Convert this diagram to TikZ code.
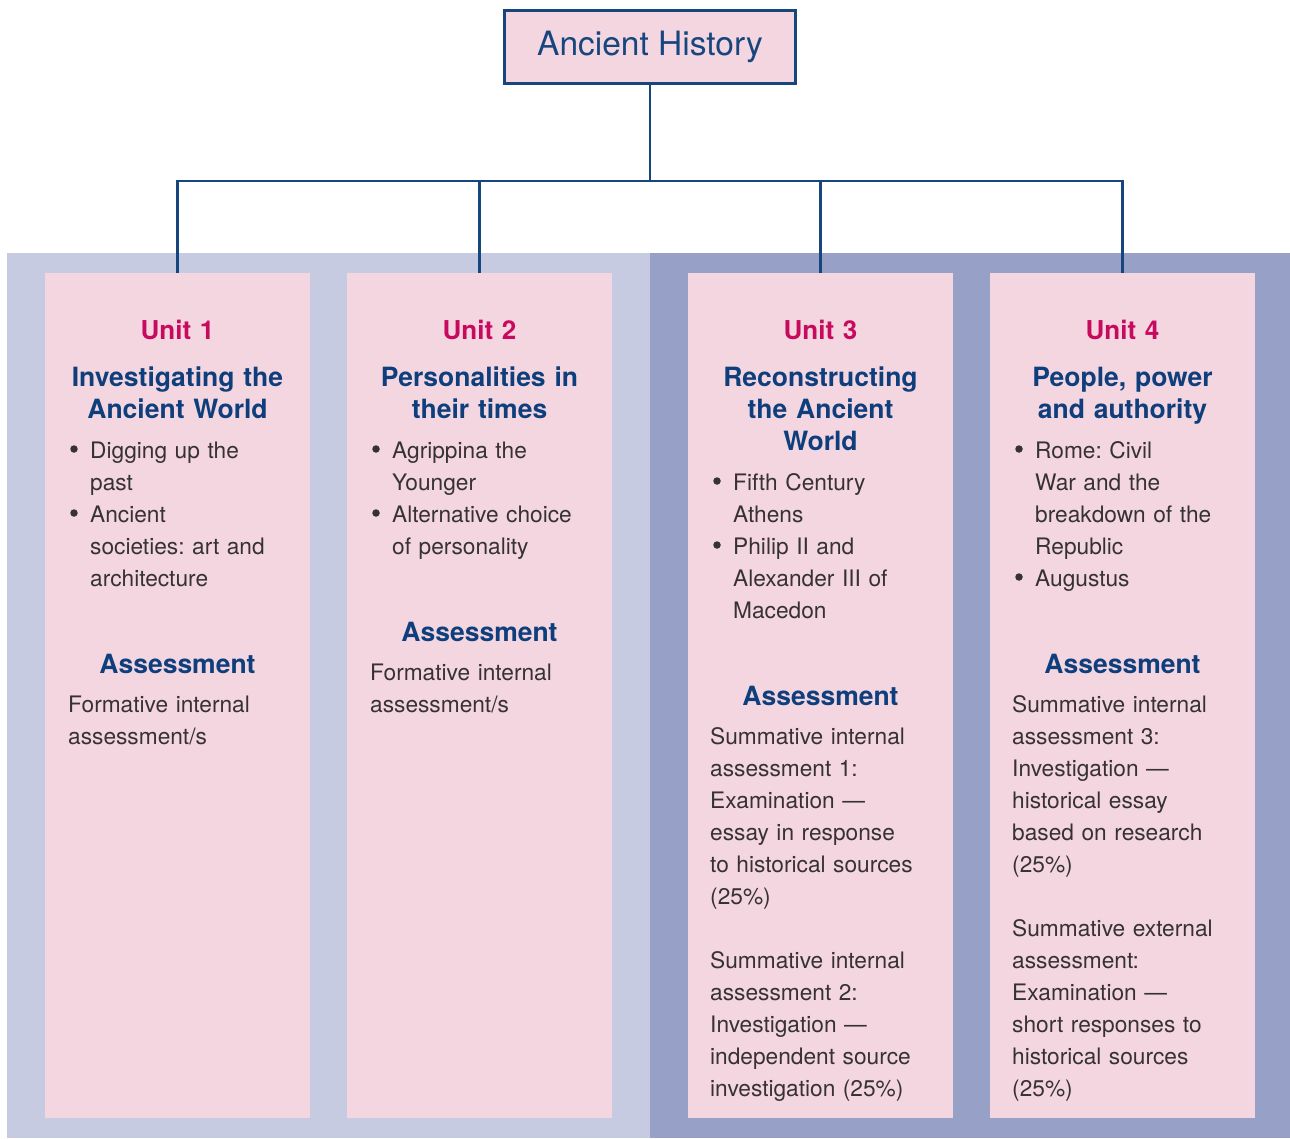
\documentclass[tikz,border=0pt]{standalone}
\usepackage{fontspec}
\setmainfont{TeX Gyre Heros}
\frenchspacing
\definecolor{navy}{HTML}{0E3F7C}
\definecolor{linecol}{HTML}{17467F}
\definecolor{magenta}{HTML}{C80A5F}
\definecolor{pinkfill}{HTML}{F4D6E1}
\definecolor{bglight}{HTML}{C6CBE2}
\definecolor{bgdark}{HTML}{97A0C6}
\definecolor{bodytext}{HTML}{363233}
\begin{document}
\begin{tikzpicture}[x=1pt,y=-1pt,
  panel/.style={fill=pinkfill, draw=none, minimum width=265, minimum height=845,
    anchor=north west, inner sep=0},
  titlebox/.style={fill=pinkfill, draw=linecol, line width=3, minimum width=291,
    minimum height=73, inner sep=0, text=linecol,
    font=\fontsize{33.5}{38}\selectfont},
  conn/.style={draw=linecol, line width=2.5},
  unitlbl/.style={anchor=base, inner sep=0, text width=265, align=center,
    text=magenta, font=\fontsize{26}{32}\selectfont\bfseries},
  head/.style={anchor=base, inner sep=0, text width=265, align=center,
    text=navy, font=\fontsize{26.5}{32}\selectfont\bfseries},
  body/.style={anchor=base west, inner sep=0, text width=240, align=left,
    text=bodytext, font=\fontsize{22.7}{32}\selectfont},
  dot/.style={circle, fill=bodytext, inner sep=0, minimum size=7.5}
]
\useasboundingbox (0,0) rectangle (1290,1138);

% coloured backdrops behind the units
\fill[bglight] (7,253) rectangle (650,1138);
\fill[bgdark] (650,253) rectangle (1290,1138);

% unit panels
\node[panel] (p1) at (45,273) {};
\node[panel] (p2) at (347,273) {};
\node[panel] (p3) at (688,273) {};
\node[panel] (p4) at (990,273) {};

% subject title and tree connectors
\node[titlebox] (title) at (650,47) {Ancient History};
\coordinate (bus) at (650,181);
\draw[conn] (title.south) -- (bus);
\draw[conn] (p1.north) -- (p1.north |- bus) -- (p4.north |- bus) -- (p4.north);
\draw[conn] (p2.north) -- (p2.north |- bus);
\draw[conn] (p3.north) -- (p3.north |- bus);

% Unit 1
\node[unitlbl] (u1) at (177.5,339) {Unit 1};
\node[head] (u1t) at (177.5,386) {Investigating the\\Ancient World};
\node[dot] (u1d1) at (74,449) {};
\node[body] (u1b1) at (90,458) {Digging up the\\past};
\node[dot] (u1d2) at (74,513) {};
\node[body] (u1b2) at (90,522) {Ancient\\societies: art and\\architecture};
\node[head] (u1a) at (177.5,673) {Assessment};
\node[body] (u1x) at (68,712) {Formative internal\\assessment/s};

% Unit 2
\node[unitlbl] (u2) at (479.5,339) {Unit 2};
\node[head] (u2t) at (479.5,386) {Personalities in\\their times};
\node[dot] (u2d1) at (376,449) {};
\node[body] (u2b1) at (392,458) {Agrippina the\\Younger};
\node[dot] (u2d2) at (376,513) {};
\node[body] (u2b2) at (392,522) {Alternative choice\\of personality};
\node[head] (u2a) at (479.5,641) {Assessment};
\node[body] (u2x) at (370,680) {Formative internal\\assessment/s};

% Unit 3
\node[unitlbl] (u3) at (820.5,339) {Unit 3};
\node[head] (u3t) at (820.5,386) {Reconstructing\\the Ancient\\World};
\node[dot] (u3d1) at (717,481) {};
\node[body] (u3b1) at (733,490) {Fifth Century\\Athens};
\node[dot] (u3d2) at (717,545) {};
\node[body] (u3b2) at (733,554) {Philip II and\\Alexander III of\\Macedon};
\node[head] (u3a) at (820.5,705) {Assessment};
\node[body] (u3x) at (710,744) {Summative internal\\assessment 1:\\Examination —\\essay in response\\to historical sources\\(25\%)\\[32pt]
  Summative internal\\assessment 2:\\Investigation —\\independent source\\investigation (25\%)};

% Unit 4
\node[unitlbl] (u4) at (1122.5,339) {Unit 4};
\node[head] (u4t) at (1122.5,386) {People, power\\and authority};
\node[dot] (u4d1) at (1019,449) {};
\node[body] (u4b1) at (1035,458) {Rome: Civil\\War and the\\breakdown of the\\Republic};
\node[dot] (u4d2) at (1019,577) {};
\node[body] (u4b2) at (1035,586) {Augustus};
\node[head] (u4a) at (1122.5,673) {Assessment};
\node[body] (u4x) at (1012,712) {Summative internal\\assessment 3:\\Investigation —\\historical essay\\based on research\\(25\%)\\[32pt]
  Summative external\\assessment:\\Examination —\\short responses to\\historical sources\\(25\%)};
\end{tikzpicture}
\end{document}
